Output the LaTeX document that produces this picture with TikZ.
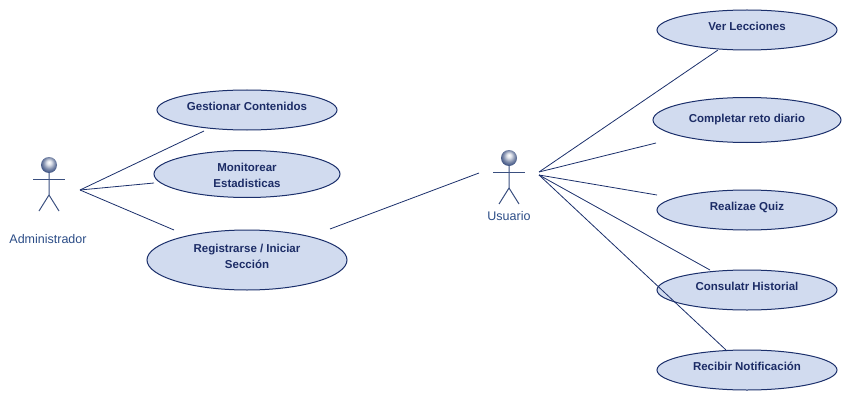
\documentclass[tikz,border=0pt]{standalone}
\usepackage{fontspec}
\setmainfont{Liberation Sans}
\definecolor{umlline}{HTML}{1B2F6B}
\definecolor{umlfill}{HTML}{D1DBEF}
\definecolor{umltext}{HTML}{1C2C66}
\definecolor{actortext}{HTML}{2B4C86}
\definecolor{actorline}{HTML}{3A4F7F}
\pgfdeclareradialshading{actorball}{\pgfpoint{0bp}{9bp}}{color(0bp)=(white); color(7bp)=(white!85!actorline); color(18bp)=(actorline!65!white); color(28bp)=(actorline); color(50bp)=(actorline)}
\tikzset{
    usecase/.style = {draw = umlline, fill = umlfill, ellipse, inner sep = 0, line width = 1pt, text = umltext, align = center, text depth = 6.5, font = \fontsize{11.5}{15.5}\selectfont\bfseries},
    actorhead/.style = {circle, inner sep = 0, minimum size = 16, shading = actorball},
    actorname/.style = {text = actortext, font = \fontsize{12.5}{14}\selectfont},
    limb/.style = {draw = actorline, line width = 1pt},
    link/.style = {draw = umlline, line width = 0.8pt}
}
\usetikzlibrary{shapes.geometric}
\begin{document}
\begin{tikzpicture}[x = 1pt, y = -1pt]
        \useasboundingbox (0, 0) rectangle (853, 401);
        % left side
        \node[usecase, minimum width = 180, minimum height = 40] (contenidos) at (247, 110) {Gestionar Contenidos};
        \node[usecase, minimum width = 186, minimum height = 47, text height = 27, text depth = 1] (estadisticas) at (247, 174) {Monitorear \\ Estadisticas};
        \node[usecase, minimum width = 200, minimum height = 60, text depth = 8, font = \fontsize{11.5}{16}\selectfont\bfseries] (registro) at (247, 260) {Registrarse / Iniciar \\ Sección};
        % right side
        \node[usecase, minimum width = 180, minimum height = 40] (lecciones) at (747, 30) {Ver Lecciones};
        \node[usecase, minimum width = 188, minimum height = 45, text depth = 2.5] (reto) at (747, 120) {Completar reto diario};
        \node[usecase, minimum width = 180, minimum height = 40] (quiz) at (747, 210) {Realizae Quiz};
        \node[usecase, minimum width = 180, minimum height = 40] (historial) at (747, 290) {Consulatr Historial};
        \node[usecase, minimum width = 180, minimum height = 40] (notificacion) at (747, 370) {Recibir Notificación};
        % actors
        \node[actorhead] (admin) at (49, 165) {};
        \draw[limb] (admin.south) -- (49, 195) -- (39, 211);
        \draw[limb] (49, 195) -- (59, 211);
        \draw[limb] (33, 179) -- (65, 179);
        \node[actorname] (adminname) at (48, 239) {Administrador};
        \node[actorhead] (usuario) at (509, 158) {};
        \draw[limb] (usuario.south) -- (509, 188) -- (499, 204);
        \draw[limb] (509, 188) -- (519, 204);
        \draw[limb] (493, 172) -- (525, 172);
        \node[actorname] (usuarioname) at (509, 216) {Usuario};
        % link ends
        \coordinate (adminhand) at (80, 190);
        \coordinate (userhand) at (539, 172);
        \coordinate (userhandlow) at (539, 175);
        \coordinate (contenidosend) at (204, 131);
        \coordinate (estadisticasend) at (154, 183);
        \coordinate (registroleft) at (174, 230);
        \coordinate (registroright) at (330, 229);
        \coordinate (userleft) at (479, 173);
        \coordinate (leccionesend) at (718, 50);
        \coordinate (retoend) at (656, 143);
        \coordinate (quizend) at (657, 195);
        \coordinate (historialend) at (710, 270);
        \coordinate (notificacionend) at (726, 350);
        \draw[link] (adminhand) -- (contenidosend);
        \draw[link] (adminhand) -- (estadisticasend);
        \draw[link] (adminhand) -- (registroleft);
        \draw[link] (registroright) -- (userleft);
        \draw[link] (userhand) -- (leccionesend);
        \draw[link] (userhand) -- (retoend);
        \draw[link] (userhandlow) -- (quizend);
        \draw[link] (userhandlow) -- (historialend);
        \draw[link] (userhandlow) -- (notificacionend);
    \end{tikzpicture}
\end{document}
